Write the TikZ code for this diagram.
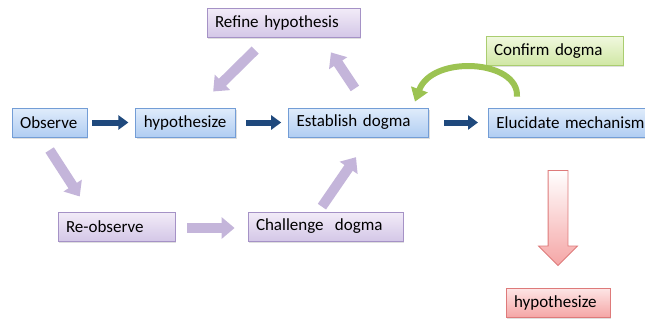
\documentclass[tikz,border=0pt]{standalone}
\usepackage{fontspec}
\setmainfont{Carlito}
\usetikzlibrary{arrows.meta,positioning,shapes.arrows,shadows,calc}

\definecolor{bluetop}{RGB}{224,236,251}
\definecolor{bluebot}{RGB}{176,205,242}
\definecolor{bluedraw}{RGB}{115,157,214}
\definecolor{purptop}{RGB}{242,236,248}
\definecolor{purpbot}{RGB}{212,199,231}
\definecolor{purpdraw}{RGB}{165,146,198}
\definecolor{greentop}{RGB}{240,248,222}
\definecolor{greenbot}{RGB}{208,231,164}
\definecolor{greendraw}{RGB}{170,205,112}
\definecolor{redtop}{RGB}{253,230,230}
\definecolor{redbot}{RGB}{245,166,166}
\definecolor{reddraw}{RGB}{222,122,122}
\definecolor{navy}{RGB}{31,73,125}
\definecolor{lilac}{RGB}{196,181,218}
\definecolor{leaf}{RGB}{156,195,82}

\begin{document}
\begin{tikzpicture}[
    x=1pt, y=-1pt,
    box/.style={rectangle, minimum height=29pt, inner xsep=8pt, inner ysep=0pt, align=left, font=\fontsize{17}{20}\selectfont, line width=0.8pt, drop shadow={opacity=0.25, shadow xshift=1.2pt, shadow yshift=-1.5pt}},
    bluebox/.style={box, draw=bluedraw, top color=bluetop, bottom color=bluebot},
    purpbox/.style={box, draw=purpdraw, top color=purptop, bottom color=purpbot},
    greenbox/.style={box, draw=greendraw, top color=greentop, bottom color=greenbot},
    redbox/.style={box, draw=reddraw, top color=redtop, bottom color=redbot},
    bluearrow/.style={-{Triangle[width=14pt,length=10pt]}, line width=6pt, draw=navy},
    purparrow/.style={-{Triangle[width=21pt,length=13pt]}, line width=10pt, draw=lilac},
    greenarrow/.style={-{Triangle[width=17pt,length=13pt]}, line width=6pt, draw=leaf},
]
    \useasboundingbox (0,0) rectangle (645,322);

    % main row
    \node[bluebox, text width=59pt] (obs) at (49.5,122.5) {Observe};
    \node[bluebox, text width=84pt, right=48pt of obs] (hyp) {hypothesize};
    \node[bluebox, text width=124pt, right=52pt of hyp] (est) {Establish dogma};
    \node[bluebox, text width=154pt, right=59pt of est] (elu) {Elucidate mechanism};

    \node[purpbox, text width=137pt] (ref) at (283.5,22.5) {Refine hypothesis};
    \node[greenbox, text width=121pt] (conf) at (554.5,51) {Confirm dogma};
    \node[purpbox, text width=101pt] (reo) at (116.5,226.5) {Re-observe};
    \node[purpbox, text width=139pt] (cha) at (325.5,226.5) {Challenge~ dogma};
    \node[redbox, text width=88pt] (newhyp) at (558,302.5) {hypothesize};

    \node[single arrow, shape border rotate=270, minimum height=95pt, inner sep=9.5pt,
          single arrow head extend=9.5pt, single arrow tip angle=90, line width=0.8pt,
          draw=reddraw, top color=white, bottom color=redbot] (redarr) at (558,213) {};

    \draw[bluearrow, shorten <=5pt, shorten >=7pt] (obs) -- (hyp);
    \draw[bluearrow, shorten <=10pt, shorten >=7pt] (hyp) -- (est);
    \draw[bluearrow, shorten <=15pt, shorten >=10pt] (est) -- (elu);

    \draw[purparrow, shorten <=18pt, shorten >=23pt] ([xshift=-15.5pt]ref.south) -- ([xshift=11pt]hyp.north);
    \draw[purparrow, shorten <=23pt, shorten >=18pt] ([xshift=9pt]est.north) -- ([xshift=37.5pt]ref.south);
    \draw[purparrow, shorten <=15pt, shorten >=18pt] ([xshift=-8pt]obs.south) -- ([xshift=-27pt]reo.north);
    \draw[purparrow, shorten <=12pt, shorten >=13pt] ([yshift=-1.5pt]reo.east) -- ([yshift=-1.5pt]cha.west);
    \draw[purparrow, shorten <=6pt, shorten >=24pt] ([xshift=-7pt]cha.north) -- ([xshift=11pt]est.south);

    \draw[greenarrow] ($(elu.north west)+(29,-11)$) .. controls ($(elu.north west)+(31,-48)$) and ($(est.north east)+(3,-53)$) .. ($(est.north east)+(-14,-6)$);

\end{tikzpicture}
\end{document}
